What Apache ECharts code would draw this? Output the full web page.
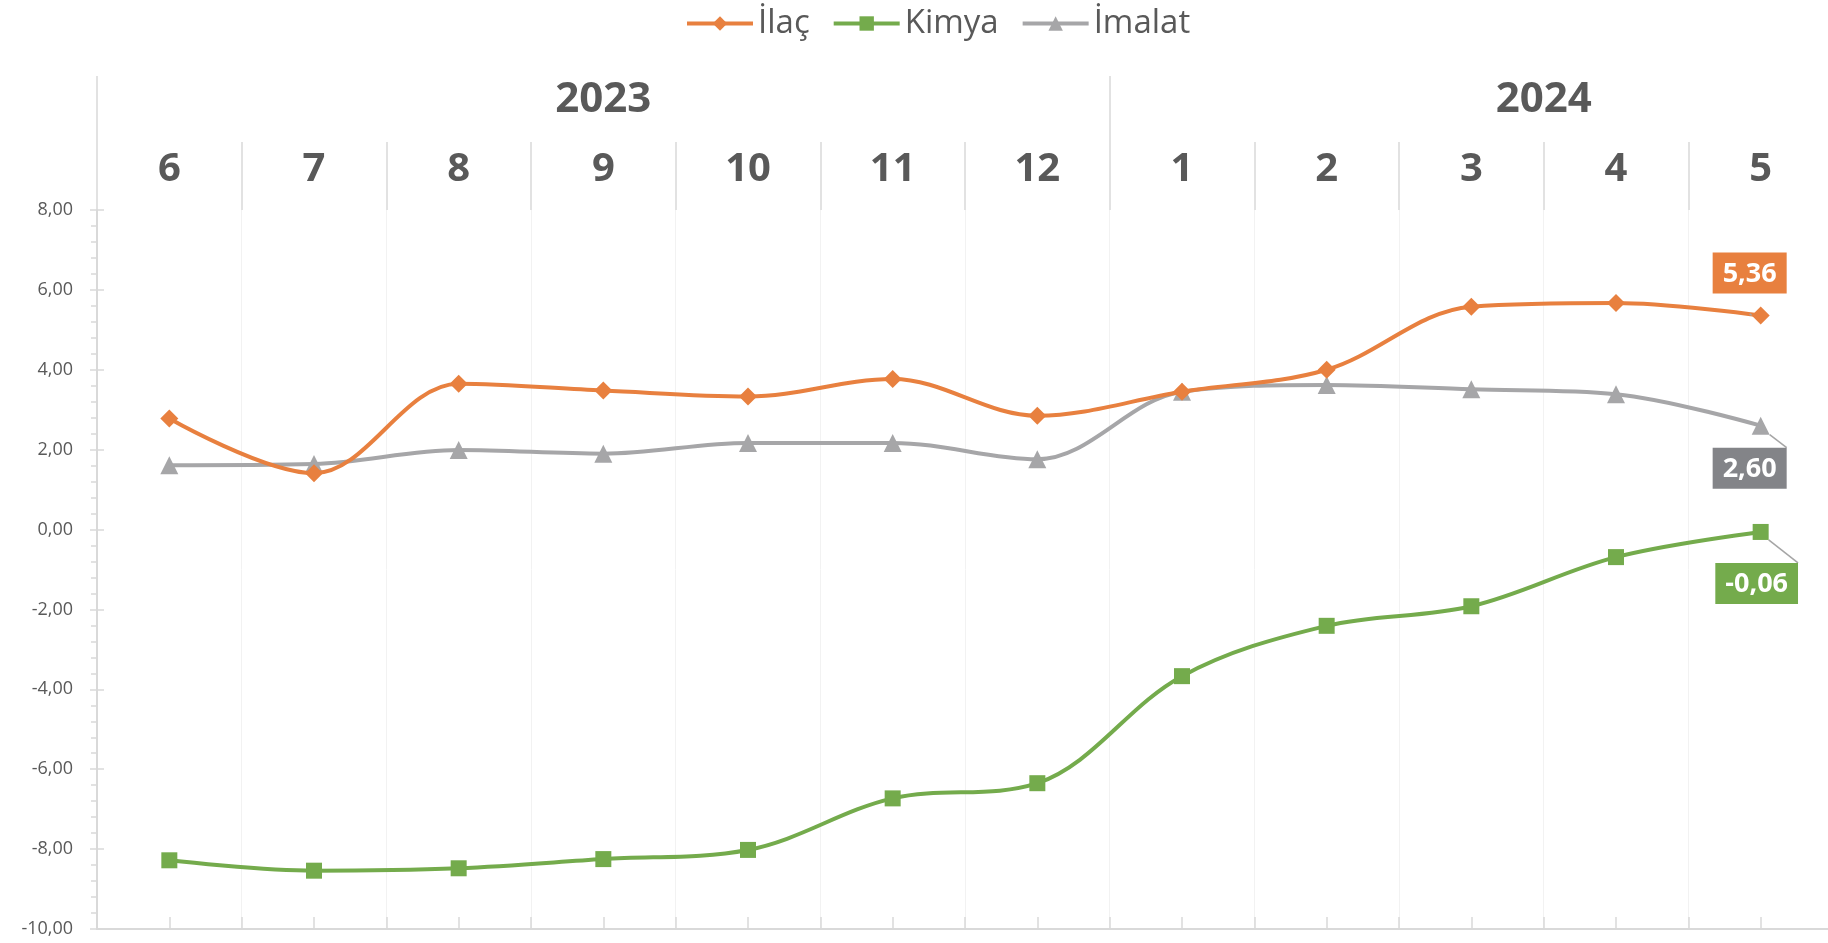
<!DOCTYPE html>
<html>
<head>
<meta charset="utf-8">
<script src="https://cdn.jsdelivr.net/npm/echarts@6/dist/echarts.min.js"></script>
<style>html,body{margin:0;padding:0;background:#fff}#c{width:1828px;height:943px}</style>
</head>
<body>
<div id="c"></div>
<script>
const months = ['6','7','8','9','10','11','12','1','2','3','4','5'];
const years = ['2023','2024'];
const yearSpans = [7, 6];
const ilac   = [2.78, 1.41, 3.65, 3.48, 3.33, 3.77, 2.85, 3.45, 4.00, 5.58, 5.67, 5.36];
const kimya  = [-8.28, -8.54, -8.48, -8.25, -8.02, -6.73, -6.35, -3.67, -2.41, -1.92, -0.69, -0.06];
const imalat = [1.61, 1.64, 1.99, 1.90, 2.17, 2.17, 1.76, 3.45, 3.62, 3.51, 3.39, 2.60];

const C_ORANGE = '#E8803F', C_GREEN = '#74AB4C', C_GRAY = '#A6A6A8', C_GRAYLBL = '#838488';
const FONT = 'Open Sans';
const fmt = v => v.toFixed(2).replace('.', ',');

// year boundaries & midpoints from spans
const yearBounds = [0]; const yearMids = [];
yearSpans.forEach((s, i) => { yearMids.push(yearBounds[i] + s / 2); yearBounds.push(yearBounds[i] + s); });

function withLastLabel(arr, color, pos, offset) {
  return arr.map((v, i) => i === arr.length - 1 ? {
    value: v,
    label: {
      show: true, position: pos, offset: offset, formatter: p => fmt(p.value),
      color: '#fff', fontFamily: FONT, fontWeight: 'bold', fontSize: 27,
      backgroundColor: color, padding: [8, 10, 6, 10]
    },
    labelLine: { show: true, lineStyle: { color: '#A5A5A5', width: 1.5 } }
  } : v);
}

const chart = echarts.init(document.getElementById('c'));
chart.setOption({
  animation: false,
  textStyle: { fontFamily: FONT },
  legend: {
    top: 2, left: 680, itemGap: 22, itemWidth: 66, itemHeight: 18,
    lineStyle: { width: 4 },
    textStyle: { fontFamily: FONT, fontSize: 33, color: '#595959' },
    data: ['İlaç', 'Kimya', 'İmalat']
  },
  grid: { left: 97, top: 210, bottom: 14, width: 1736, outerBoundsMode: 'none', containLabel: false },
  xAxis: [
    {
      type: 'category', data: months, position: 'top', boundaryGap: true,
      axisLine: { show: false, onZero: false },
      axisTick: { show: true, interval: 0, length: 68, lineStyle: { color: '#D9D9D9', width: 1.5 } },
      axisLabel: { interval: 0, margin: 20, fontFamily: FONT, fontWeight: 'bold', fontSize: 40, color: '#595959' },
      splitLine: { show: true, interval: 0, lineStyle: { color: '#F2F2F2', width: 1 } }
    },
    {
      type: 'value', min: 0, max: 12, position: 'top',
      axisLine: { show: false, onZero: false },
      axisTick: { show: true, customValues: yearBounds.slice(0, -1), length: 134, lineStyle: { color: '#D9D9D9', width: 1.5 } },
      axisLabel: {
        show: true, customValues: yearMids, margin: 89,
        formatter: v => years[yearMids.indexOf(v)],
        fontFamily: FONT, fontWeight: 'bold', fontSize: 42, color: '#595959'
      },
      splitLine: { show: false }
    },
    {
      type: 'value', min: 0, max: 12, interval: 0.5, position: 'bottom',
      axisLine: { show: true, onZero: false, lineStyle: { color: '#D9D9D9', width: 2 } },
      axisTick: { show: true, inside: true, length: 12, lineStyle: { color: '#D9D9D9', width: 1.5 } },
      axisLabel: { show: false },
      splitLine: { show: false }
    }
  ],
  yAxis: [
    {
      type: 'value', min: -10, max: 8, interval: 2, position: 'left',
      axisLine: { show: true, onZero: false, lineStyle: { color: '#D9D9D9', width: 2 } },
      axisTick: { show: true, length: 7, lineStyle: { color: '#D9D9D9', width: 1.5 } },
      minorTick: { show: true, splitNumber: 5, length: 6, lineStyle: { color: '#D9D9D9', width: 1.5 } },
      axisLabel: { formatter: fmt, margin: 24, fontFamily: FONT, fontSize: 18, color: '#595959' },
      splitLine: { show: false }
    },
    {
      type: 'value', min: -10, max: 8, interval: 2, position: 'left', offset: 0,
      axisLine: { show: false, onZero: false },
      axisTick: { show: true, inside: true, length: 7, lineStyle: { color: '#D9D9D9', width: 1.5 } },
      axisLabel: { show: false },
      splitLine: { show: false }
    }
  ],
  series: [
    {
      name: 'İlaç', type: 'line', smooth: 0.35, xAxisIndex: 0, yAxisIndex: 0,
      data: withLastLabel(ilac, C_ORANGE, 'top', [-11, -8]),
      symbol: 'diamond', symbolSize: 18,
      lineStyle: { color: C_ORANGE, width: 4 }, itemStyle: { color: C_ORANGE },
      z: 4
    },
    {
      name: 'Kimya', type: 'line', smooth: 0.35, xAxisIndex: 0, yAxisIndex: 0,
      data: withLastLabel(kimya, C_GREEN, 'bottom', [-4, 18]),
      symbol: 'rect', symbolSize: 16,
      lineStyle: { color: C_GREEN, width: 4 }, itemStyle: { color: C_GREEN },
      z: 3
    },
    {
      name: 'İmalat', type: 'line', smooth: 0.35, xAxisIndex: 0, yAxisIndex: 0,
      data: withLastLabel(imalat, C_GRAYLBL, 'bottom', [-11, 8]),
      symbol: 'triangle', symbolSize: 18,
      lineStyle: { color: C_GRAY, width: 4 }, itemStyle: { color: C_GRAY },
      z: 2
    }
  ]
});
</script>
</body>
</html>
